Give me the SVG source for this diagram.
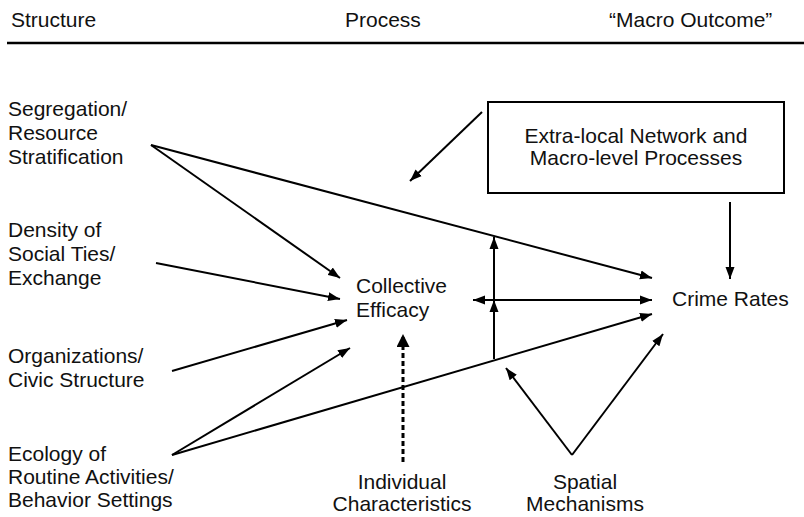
<svg xmlns="http://www.w3.org/2000/svg" width="804" height="517" viewBox="0 0 804 517">
  <style>
    text { font-family: "Liberation Sans", Arial, Helvetica, sans-serif; font-size: 21px; fill: #111; }
    .mid { text-anchor: middle; }
    .edge { stroke: #000; stroke-width: 2; fill: none; marker-end: url(#arrow); }
  </style>
  <defs>
    <marker id="arrow" markerUnits="userSpaceOnUse" markerWidth="13" markerHeight="10" refX="12" refY="5" orient="auto-start-reverse">
      <path d="M0,0.5 L12,5 L0,9.5 Z" fill="#000"/>
    </marker>
    <marker id="arrowBig" markerUnits="userSpaceOnUse" markerWidth="14" markerHeight="14" refX="13" refY="6.5" orient="auto">
      <path d="M0,0 L13,6.5 L0,13 Z" fill="#000"/>
    </marker>
  </defs>

  <!-- column headings -->
  <g id="headings">
    <text x="11" y="27">Structure</text>
    <text x="345" y="27">Process</text>
    <text x="609" y="27">“Macro Outcome”</text>
    <line x1="7" y1="43" x2="804" y2="43" stroke="#000" stroke-width="2.5"/>
  </g>

  <!-- structural factors -->
  <g id="segregation">
    <text x="8" y="116">Segregation/</text>
    <text x="8" y="140">Resource</text>
    <text x="8" y="164">Stratification</text>
  </g>
  <g id="density">
    <text x="8" y="237">Density of</text>
    <text x="8" y="261">Social Ties/</text>
    <text x="8" y="285">Exchange</text>
  </g>
  <g id="organizations">
    <text x="8" y="363">Organizations/</text>
    <text x="8" y="387">Civic Structure</text>
  </g>
  <g id="ecology">
    <text x="8" y="461">Ecology of</text>
    <text x="8" y="484">Routine Activities/</text>
    <text x="8" y="507">Behavior Settings</text>
  </g>

  <!-- process and outcome -->
  <g id="collective-efficacy">
    <text x="356" y="293">Collective</text>
    <text x="356" y="317">Efficacy</text>
  </g>
  <g id="crime-rates">
    <text x="672" y="306">Crime Rates</text>
  </g>
  <g id="extra-local">
    <rect x="488" y="102" width="296" height="91" fill="none" stroke="#000" stroke-width="2"/>
    <text class="mid" x="636" y="143">Extra-local Network and</text>
    <text class="mid" x="636" y="165">Macro-level Processes</text>
  </g>
  <g id="individual">
    <text class="mid" x="402" y="489">Individual</text>
    <text class="mid" x="402" y="511">Characteristics</text>
  </g>
  <g id="spatial">
    <text class="mid" x="585" y="489">Spatial</text>
    <text class="mid" x="585" y="511">Mechanisms</text>
  </g>

  <!-- connectors -->
  <g id="connectors">
    <line class="edge" x1="151" y1="145" x2="340" y2="278"/>
    <line class="edge" x1="151" y1="145" x2="652" y2="278"/>
    <line class="edge" x1="156" y1="263" x2="340" y2="299"/>
    <line class="edge" x1="172" y1="371" x2="347" y2="320"/>
    <line class="edge" x1="172" y1="455" x2="350" y2="348"/>
    <line class="edge" x1="172" y1="455" x2="652" y2="314"/>
    <line class="edge" x1="473" y1="300" x2="652" y2="300" marker-start="url(#arrow)"/>
    <line class="edge" x1="494" y1="359" x2="494" y2="300"/>
    <line class="edge" x1="494" y1="300" x2="494" y2="237"/>
    <line class="edge" x1="482" y1="112" x2="410" y2="181"/>
    <line class="edge" x1="730" y1="202" x2="730" y2="279"/>
    <line x1="403" y1="462" x2="403" y2="334" stroke="#000" stroke-width="3" stroke-dasharray="5 3" marker-end="url(#arrowBig)"/>
    <line class="edge" x1="572" y1="455" x2="506" y2="368"/>
    <line class="edge" x1="572" y1="455" x2="663" y2="334"/>
  </g>
</svg>
